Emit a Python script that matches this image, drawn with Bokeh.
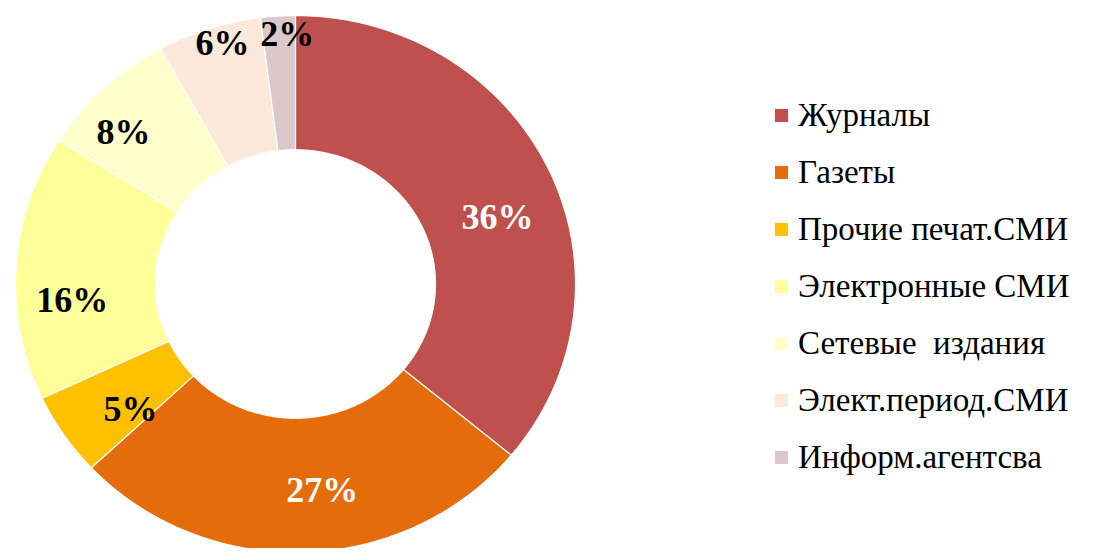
import math
from bokeh.plotting import figure
from bokeh.models import ColumnDataSource, Range1d, Legend, LegendItem
from bokeh.core.properties import value
from bokeh.embed import file_html
from bokeh.resources import INLINE

# ---- data ----
categories = ["Журналы", "Газеты", "Прочие печат.СМИ", "Электронные СМИ",
              "Сетевые  издания", "Элект.период.СМИ", "Информ.агентсва"]
shares = [36, 27, 5, 16, 8, 6, 2]
labels = ["36%", "27%", "5%", "16%", "8%", "6%", "2%"]

# ---- style ----
colors = ["#C0504D", "#E46C0A", "#FFC000", "#FFFF99", "#FFFFCC", "#FDE9D9", "#DCC8CA"]
label_colors = ["white", "white", "black", "black", "black", "black", "black"]
label_rfrac = [0.764, 0.775, 0.75, 0.80, 0.834, 0.933, 0.933]
label_dang = [6.0, -5.3, -4.0, -8.0, -4.2, 1.8, 1.8]   # degrees, clockwise nudges
INNER = 0.5

W, H = 1102, 548
CX, CY = 295, 283.5          # screen px of the ring centre
RX, RY = 280, 268.5          # screen px of unit radius (slightly wide ellipse)

total = sum(shares)
xs, ys, lx, ly = [], [], [], []
acc = 0.0
for i, s in enumerate(shares):
    a0 = acc / total * 2 * math.pi
    acc += s
    a1 = acc / total * 2 * math.pi
    n = max(4, int(s * 4))
    outer = [a0 + (a1 - a0) * k / n for k in range(n + 1)]
    px = [math.sin(t) for t in outer] + [INNER * math.sin(t) for t in reversed(outer)]
    py = [math.cos(t) for t in outer] + [INNER * math.cos(t) for t in reversed(outer)]
    xs.append(px)
    ys.append(py)
    mid = (a0 + a1) / 2 + math.radians(label_dang[i])
    lx.append(label_rfrac[i] * math.sin(mid))
    ly.append(label_rfrac[i] * math.cos(mid))

src = ColumnDataSource(dict(xs=xs, ys=ys, cat=categories, color=colors))
lsrc = ColumnDataSource(dict(x=lx, y=ly, text=labels, color=label_colors))

p = figure(width=W, height=H, output_backend="svg", toolbar_location=None,
           x_range=Range1d(-CX / RX, (W - CX) / RX),
           y_range=Range1d(-(H - CY) / RY, CY / RY), min_border=0)
p.axis.visible = False
p.grid.visible = False
p.outline_line_color = None
p.background_fill_color = "white"

wedges = p.patches(xs="xs", ys="ys", fill_color="color", line_color="white",
                   line_width=1.2, source=src)

p.text(x="x", y="y", text="text", text_color="color", source=lsrc,
       text_font=value("Liberation Serif"), text_font_size="36px",
       text_font_style="bold", text_align="center", text_baseline="middle")

items = [LegendItem(label=c, renderers=[wedges], index=i) for i, c in enumerate(categories)]
legend = Legend(items=items, location=(772, 72), orientation="vertical",
                label_text_font="Liberation Serif", label_text_font_size="33px",
                label_text_color="black", glyph_width=18, glyph_height=18,
                label_standoff=8, spacing=19, padding=0, margin=0,
                border_line_alpha=0, background_fill_alpha=0, label_height=38)
p.add_layout(legend, "center")

open("out.html", "w").write(file_html(p, INLINE))
